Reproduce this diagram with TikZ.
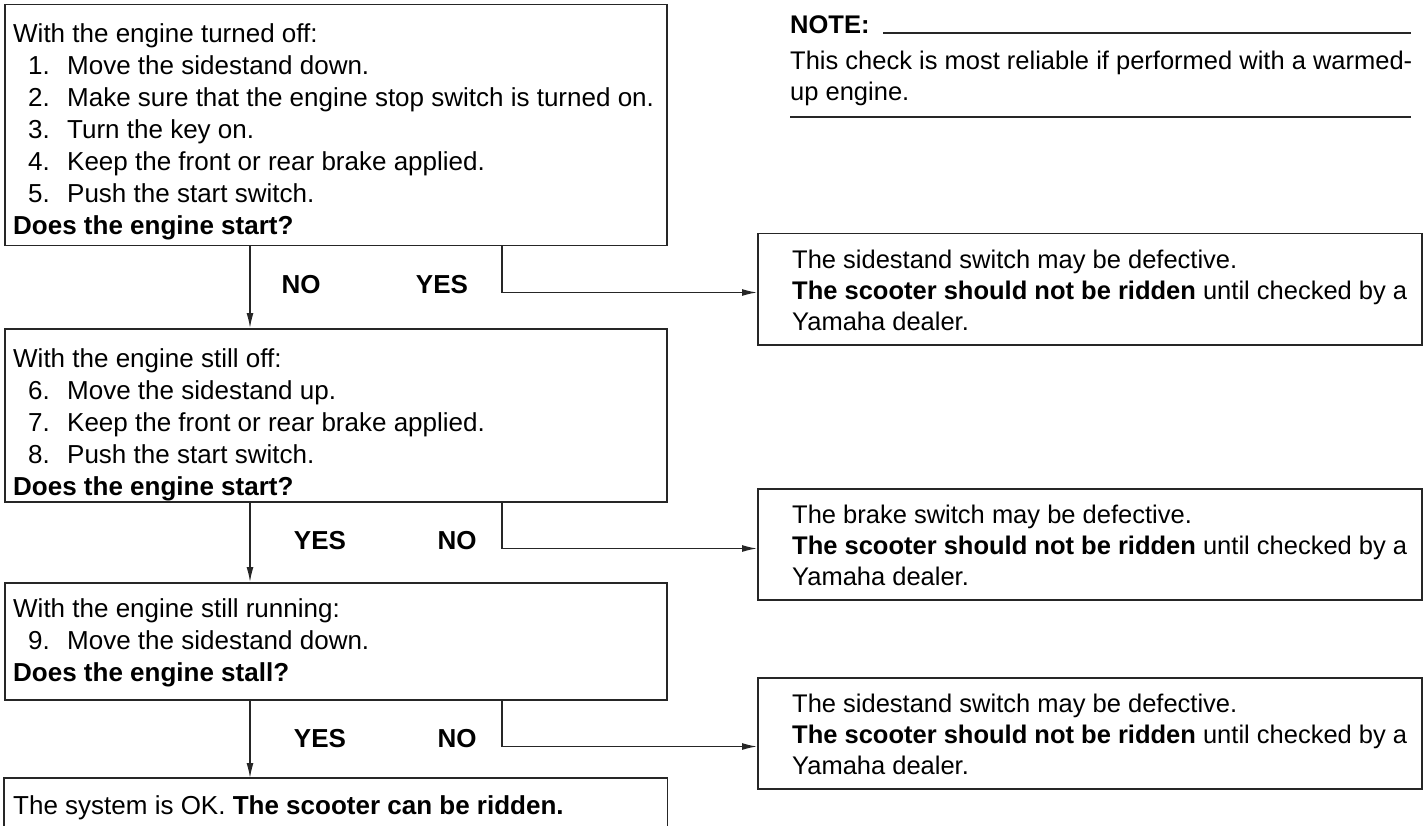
\documentclass[tikz,border=0pt]{standalone}
\usepackage{fontspec}
\setmainfont{Liberation Sans}
\usetikzlibrary{arrows.meta,calc}
\newcommand\stepitem[2]{\hspace*{15pt}\makebox[39pt][l]{#1}#2}
\begin{document}
\begin{tikzpicture}[x=1pt,y=-1pt,
  box/.style={draw=black!85,line width=1.5pt,inner sep=0pt,anchor=north west},
  ltxt/.style={anchor=north west,inner sep=0pt,align=left,font=\fontsize{26}{32}\selectfont},
  rtxt/.style={anchor=north west,inner sep=0pt,align=left,font=\fontsize{25.5}{31}\selectfont},
  lbl/.style={inner sep=0pt,font=\fontsize{26}{31}\selectfont\bfseries},
  arr/.style={draw=black!85,line width=1.4pt,-{Latex[length=15pt,width=7pt]}},
  rul/.style={draw=black!85,line width=1.5pt}
]
\useasboundingbox[fill=white] (0,0) rectangle (1426,826);
\coordinate (ax) at (250,0);
\coordinate (bx) at (502,0);

% left boxes
\node[box,minimum width=662pt,minimum height=241pt] (b1) at (4,4) {};
\node[box,minimum width=662pt,minimum height=173pt] (b2) at (4,328) {};
\node[box,minimum width=662pt,minimum height=117pt] (b3) at (4,582) {};
\node[box,draw=none,minimum width=662pt,minimum height=60pt] (b4) at (4,778) {};
\draw[rul] (b4.south west) -- (b4.north west) -- (b4.north east) -- (b4.south east);

% right boxes
\node[box,minimum width=664pt,minimum height=111pt] (r1) at (757,233) {};
\node[box,minimum width=664pt,minimum height=111pt] (r2) at (757,488) {};
\node[box,minimum width=664pt,minimum height=111pt] (r3) at (757,677) {};

% left texts
\node[ltxt] (t1) at (13,18) {\rule{0pt}{24pt}With the engine turned off:\\
\stepitem{1.}{Move the sidestand down.}\\
\stepitem{2.}{Make sure that the engine stop switch is turned on.}\\
\stepitem{3.}{Turn the key on.}\\
\stepitem{4.}{Keep the front or rear brake applied.}\\
\stepitem{5.}{Push the start switch.}\\
\textbf{Does the engine start?}};
\node[ltxt] (t2) at (13,343) {\rule{0pt}{24pt}With the engine still off:\\
\stepitem{6.}{Move the sidestand up.}\\
\stepitem{7.}{Keep the front or rear brake applied.}\\
\stepitem{8.}{Push the start switch.}\\
\textbf{Does the engine start?}};
\node[ltxt] (t3) at (13,593) {\rule{0pt}{24pt}With the engine still running:\\
\stepitem{9.}{Move the sidestand down.}\\
\textbf{Does the engine stall?}};
\node[ltxt] (t4) at (13,790) {\rule{0pt}{24pt}The system is OK. \textbf{The scooter can be ridden.}};

% right texts
\node[rtxt] (s1) at (792,244) {\rule{0pt}{24pt}The sidestand switch may be defective.\\
\textbf{The scooter should not be ridden} until checked by a\\
Yamaha dealer.};
\node[rtxt] (s2) at (792,499) {\rule{0pt}{24pt}The brake switch may be defective.\\
\textbf{The scooter should not be ridden} until checked by a\\
Yamaha dealer.};
\node[rtxt] (s3) at (792,688) {\rule{0pt}{24pt}The sidestand switch may be defective.\\
\textbf{The scooter should not be ridden} until checked by a\\
Yamaha dealer.};

% NOTE
\node[anchor=north west,inner sep=0pt,font=\fontsize{25.5}{31}\selectfont\bfseries] (nt) at (790,9) {\rule{0pt}{24pt}NOTE:};
\coordinate (nr) at (1411,33);
\draw[rul] (883,33) -- (nr);
\node[rtxt] (nx) at (790,45) {\rule{0pt}{24pt}This check is most reliable if performed with a warmed-\\up engine.};
\coordinate (nb1) at (790,117);
\draw[rul] (nb1) -- (nb1 -| nr);

% vertical arrows
\draw[arr] (b1.south -| ax) -- (b2.north -| ax);
\draw[arr] (b2.south -| ax) -- (b3.north -| ax);
\draw[arr] (b3.south -| ax) -- (b4.north -| ax);

% branch arrows
\draw[arr] (b1.south -| bx) |- ($(b1.south -| r1.west)+(0,46)$);
\draw[arr] (b2.south -| bx) |- ($(b2.south -| r2.west)+(0,46)$);
\draw[arr] (b3.south -| bx) |- ($(b3.south -| r3.west)+(0,46)$);

% labels
\node[lbl] (l1a) at (301,285) {NO};
\node[lbl] (l1b) at (442,285) {YES};
\node[lbl] (l2a) at (320,541) {YES};
\node[lbl] (l2b) at (457,541) {NO};
\node[lbl] (l3a) at (320,739) {YES};
\node[lbl] (l3b) at (457,739) {NO};
\end{tikzpicture}
\end{document}
